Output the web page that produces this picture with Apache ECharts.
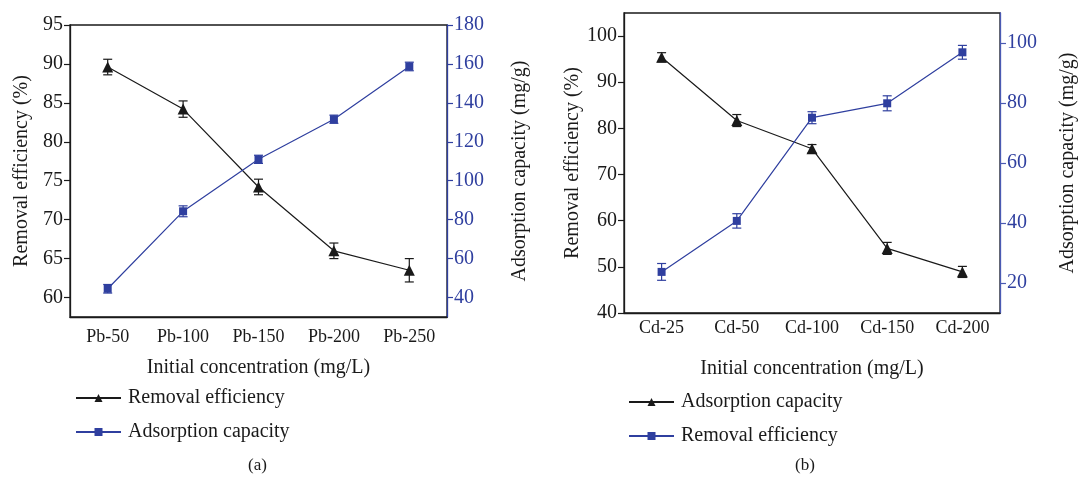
<!DOCTYPE html>
<html>
<head>
<meta charset="utf-8">
<script src="https://cdn.jsdelivr.net/npm/echarts@6/dist/echarts.min.js"></script>
<style>html,body{margin:0;padding:0;background:#fff}#c{width:1080px;height:481px}</style>
</head>
<body>
<div id="c"></div>
<script>
// ---- data ----
const catsA = ['Pb-50', 'Pb-100', 'Pb-150', 'Pb-200', 'Pb-250'];
const removalA = [89.6, 84.2, 74.2, 66.0, 63.5];
const removalAErr = [1.0, 1.05, 1.0, 1.0, 1.5];
const adsorptionA = [44.5, 84.3, 111.0, 131.6, 158.7];
const adsorptionAErr = [2.2, 2.8, 2.1, 2.1, 2.2];
const leftTicksA = [60, 65, 70, 75, 80, 85, 90, 95];
const rightTicksA = [40, 60, 80, 100, 120, 140, 160, 180];

const catsB = ['Cd-25', 'Cd-50', 'Cd-100', 'Cd-150', 'Cd-200'];
const blackB = [95.4, 81.7, 75.6, 54.0, 48.9];
const blackBErr = [1.0, 1.3, 0.9, 1.3, 1.2];
const blueB = [23.7, 40.7, 75.1, 79.9, 96.9];
const blueBErr = [2.8, 2.4, 2.0, 2.5, 2.3];
const leftTicksB = [40, 50, 60, 70, 80, 90, 100];
const rightTicksB = [20, 40, 60, 80, 100];

// ---- styles ----
const FONT = '"Liberation Serif", "DejaVu Serif", serif';
const BLACK = '#1a1a1a';
const BLUE = '#2f3f9f';
const BLUE_AXIS = '#4a5ab3';

function errData(vals, errs) {
  return vals.map((v, i) => [i, v - errs[i], v + errs[i]]);
}
function errSeries(vals, errs, xi, yi, color) {
  return {
    type: 'custom', xAxisIndex: xi, yAxisIndex: yi, z: 3, silent: true,
    data: errData(vals, errs),
    renderItem: function (params, api) {
      const i = api.value(0);
      const lo = api.coord([i, api.value(1)]);
      const hi = api.coord([i, api.value(2)]);
      const w = 4.5;
      const st = { stroke: color, lineWidth: 1.2 };
      return { type: 'group', children: [
        { type: 'line', shape: { x1: lo[0], y1: lo[1], x2: hi[0], y2: hi[1] }, style: st },
        { type: 'line', shape: { x1: lo[0] - w, y1: lo[1], x2: lo[0] + w, y2: lo[1] }, style: st },
        { type: 'line', shape: { x1: hi[0] - w, y1: hi[1], x2: hi[0] + w, y2: hi[1] }, style: st }
      ]};
    }
  };
}
function lineSeries(name, vals, xi, yi, color, symbol, size) {
  return {
    name: name, type: 'line', xAxisIndex: xi, yAxisIndex: yi, z: 4,
    data: vals, symbol: symbol, symbolSize: size,
    lineStyle: { color: color, width: 1.2 },
    itemStyle: { color: color },
    emphasis: { disabled: true }
  };
}
function xAx(gi, cats, labelMargin, nameGap) {
  return {
    type: 'category', gridIndex: gi, data: cats, boundaryGap: true,
    name: 'Initial concentration (mg/L)', nameLocation: 'middle', nameGap: nameGap,
    nameTextStyle: { fontFamily: FONT, fontSize: 20, color: BLACK },
    axisLine: { lineStyle: { color: BLACK, width: 1.3 } },
    axisTick: { alignWithLabel: true, length: 8, lineStyle: { color: BLACK, width: 1.2 } },
    axisLabel: { fontFamily: FONT, fontSize: 18, color: BLACK, margin: labelMargin, interval: 0 },
    splitLine: { show: false }
  };
}
function yAx(gi, pos, min, max, ticks, name, nameGap, color, lineColor) {
  return {
    type: 'value', gridIndex: gi, position: pos, min: min, max: max,
    name: name, nameLocation: 'middle', nameGap: nameGap, nameRotate: 90,
    nameTextStyle: { fontFamily: FONT, fontSize: 20, color: BLACK },
    axisLine: { show: true, lineStyle: { color: lineColor, width: 1.3 } },
    axisTick: { show: true, length: 6, customValues: ticks, lineStyle: { color: lineColor, width: 1.2 } },
    axisLabel: { fontFamily: FONT, fontSize: 20, color: color, margin: 7, customValues: ticks },
    splitLine: { show: false }
  };
}

const legendNames = {
  'a-black': 'Removal efficiency', 'a-blue': 'Adsorption capacity',
  'b-black': 'Adsorption capacity', 'b-blue': 'Removal efficiency'
};
function legend(left, top, names) {
  return {
    left: left, top: top, orient: 'vertical', data: names,
    itemWidth: 45, itemHeight: 10, itemGap: 14, selectedMode: false,
    formatter: n => legendNames[n],
    textStyle: { fontFamily: FONT, fontSize: 20, color: BLACK, padding: [0, 0, 0, 2] }
  };
}

const option = {
  animation: false,
  backgroundColor: '#fff',
  grid: [
    { left: 70, top: 25, width: 377, height: 292, show: true, borderColor: BLACK, borderWidth: 1.3, backgroundColor: 'transparent' },
    { left: 624, top: 13, width: 376, height: 300, show: true, borderColor: BLACK, borderWidth: 1.3, backgroundColor: 'transparent' }
  ],
  xAxis: [ xAx(0, catsA, 11, 41), xAx(1, catsB, 6, 46) ],
  yAxis: [
    yAx(0, 'left', 57.5, 95, leftTicksA, 'Removal efficiency (%)', 38, BLACK, BLACK),
    yAx(0, 'right', 30, 180, rightTicksA, 'Adsorption capacity (mg/g)', 63, BLUE, BLUE),
    yAx(1, 'left', 40, 105, leftTicksB, 'Removal efficiency (%)', 31, BLACK, BLACK),
    yAx(1, 'right', 10, 110, rightTicksB, 'Adsorption capacity (mg/g)', 58, BLUE, BLUE_AXIS)
  ],
  legend: [
    legend(70, 383, ['a-black', 'a-blue']),
    legend(623, 387, ['b-black', 'b-blue'])
  ],
  series: [
    errSeries(removalA, removalAErr, 0, 0, BLACK),
    lineSeries('a-black', removalA, 0, 0, BLACK, 'triangle', 11),
    errSeries(adsorptionA, adsorptionAErr, 0, 1, BLUE),
    lineSeries('a-blue', adsorptionA, 0, 1, BLUE, 'rect', 8),
    errSeries(blackB, blackBErr, 1, 2, BLACK),
    lineSeries('b-black', blackB, 1, 2, BLACK, 'triangle', 11),
    errSeries(blueB, blueBErr, 1, 3, BLUE),
    lineSeries('b-blue', blueB, 1, 3, BLUE, 'rect', 8)
  ],
  graphic: [
    { type: 'text', left: 248, top: 457, style: { text: '(a)', font: '17px ' + FONT, fill: BLACK } },
    { type: 'text', left: 795, top: 457, style: { text: '(b)', font: '17px ' + FONT, fill: BLACK } }
  ]
};
const chart = echarts.init(document.getElementById('c'), null, { renderer: 'canvas' });
chart.setOption(option);
</script>
</body>
</html>
